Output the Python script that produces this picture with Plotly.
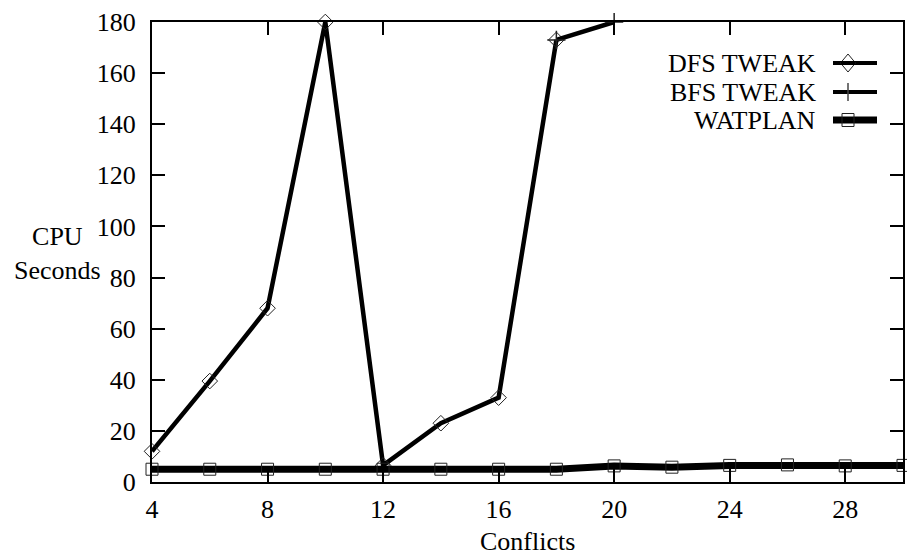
import plotly.graph_objects as go

# ---- data ----
dfs_x = [4, 6, 8, 10, 12, 14, 16, 18]
dfs_y = [12, 39.5, 68, 180, 6.5, 23, 33, 173]
bfs_x = [18, 20]
bfs_y = [173, 180]
wat_x = [4, 6, 8, 10, 12, 14, 16, 18, 20, 22, 24, 26, 28, 30]
wat_y = [5, 5, 5, 5, 5, 5, 5, 5, 6.3, 5.8, 6.5, 6.7, 6.3, 6.5]
series_names = ["DFS TWEAK", "BFS TWEAK", "WATPLAN"]

FONT = "Liberation Serif, DejaVu Serif, Times New Roman, serif"
FS = 26

W, H = 907, 558
L, R, T, B = 152, 4, 22, 76
PW, PH = W - L - R, H - T - B


def px(x):
    return (x - L) / PW


def py(y):
    return (H - B - y) / PH


fig = go.Figure()
fig.add_trace(go.Scatter(
    x=dfs_x, y=dfs_y, name=series_names[0], mode="lines+markers",
    line=dict(color="black", width=4.5),
    marker=dict(symbol="diamond-open", size=12, color="#222", line=dict(width=1)),
    cliponaxis=False, showlegend=False))
fig.add_trace(go.Scatter(
    x=bfs_x, y=bfs_y, name=series_names[1], mode="lines+markers",
    line=dict(color="black", width=4.5),
    marker=dict(symbol="cross-thin-open", size=13, color="#222", line=dict(width=1.5)),
    cliponaxis=False, showlegend=False))
fig.add_trace(go.Scatter(
    x=wat_x, y=wat_y, name=series_names[2], mode="lines+markers",
    line=dict(color="black", width=7),
    marker=dict(symbol="square-open", size=12, color="#222", line=dict(width=1)),
    cliponaxis=False, showlegend=False))

# ---- hand-drawn legend (text left of sample, like the original) ----
shapes = []
annotations = []
rows = [63, 92, 120]
widths = [4, 4, 7]
for i, name in enumerate(series_names):
    yy = rows[i]
    annotations.append(dict(
        x=px(818), y=py(yy), xref="paper", yref="paper", text=name,
        showarrow=False, xanchor="right", yanchor="middle",
        font=dict(family=FONT, size=FS, color="black")))
    shapes.append(dict(type="line", xref="paper", yref="paper",
                       x0=px(833), x1=px(877), y0=py(yy), y1=py(yy),
                       line=dict(color="black", width=widths[i]), layer="above"))
cx = 848
y0 = rows[0]
shapes.append(dict(type="path", xref="paper", yref="paper",
                   path=f"M {px(cx-7.5)} {py(y0)} L {px(cx)} {py(y0-9)} L {px(cx+7.5)} {py(y0)} L {px(cx)} {py(y0+9)} Z",
                   line=dict(color="#222", width=1), fillcolor="white", layer="above"))
shapes.append(dict(type="line", xref="paper", yref="paper",
                   x0=px(cx - 7.5), x1=px(cx + 7.5), y0=py(y0), y1=py(y0),
                   line=dict(color="black", width=4), layer="above"))
y1 = rows[1]
shapes.append(dict(type="line", xref="paper", yref="paper",
                   x0=px(cx), x1=px(cx), y0=py(y1 - 9), y1=py(y1 + 9),
                   line=dict(color="#444", width=1.5), layer="above"))
y2 = rows[2]
shapes.append(dict(type="rect", xref="paper", yref="paper",
                   x0=px(cx - 6), x1=px(cx + 6), y0=py(y2 - 6.5), y1=py(y2 + 6.5),
                   line=dict(color="#222", width=1), fillcolor="rgba(0,0,0,0)", layer="above"))

annotations.append(dict(
    x=px(57), y=py(253), xref="paper", yref="paper", text="CPU<br>Seconds",
    showarrow=False, xanchor="center", yanchor="middle", align="center",
    font=dict(family=FONT, size=FS, color="black")))

annotations.append(dict(
    x=px(527), y=py(541), xref="paper", yref="paper", text="Conflicts",
    showarrow=False, xanchor="center", yanchor="middle",
    font=dict(family=FONT, size=FS, color="black")))

axis_common = dict(
    showgrid=False, zeroline=False, showline=True, linecolor="black", linewidth=2,
    mirror="ticks", ticks="inside", ticklen=13, tickwidth=2, tickcolor="black",
    tickfont=dict(family=FONT, size=FS, color="black"), automargin=False,
)

fig.update_layout(
    width=W, height=H,
    margin=dict(l=L, r=R, t=T, b=B, autoexpand=False),
    paper_bgcolor="white", plot_bgcolor="white",
    font=dict(family=FONT, size=FS, color="black"),
    showlegend=False,
    xaxis=dict(range=[4, 30], tick0=4, dtick=4, ticklabelstandoff=3, **axis_common),
    yaxis=dict(range=[0, 180], tick0=0, dtick=20, ticklabelstandoff=9, **axis_common),
    shapes=shapes, annotations=annotations,
)

fig.write_html("out.html", config={"displayModeBar": False},
               post_script="document.body.style.margin='0';")
